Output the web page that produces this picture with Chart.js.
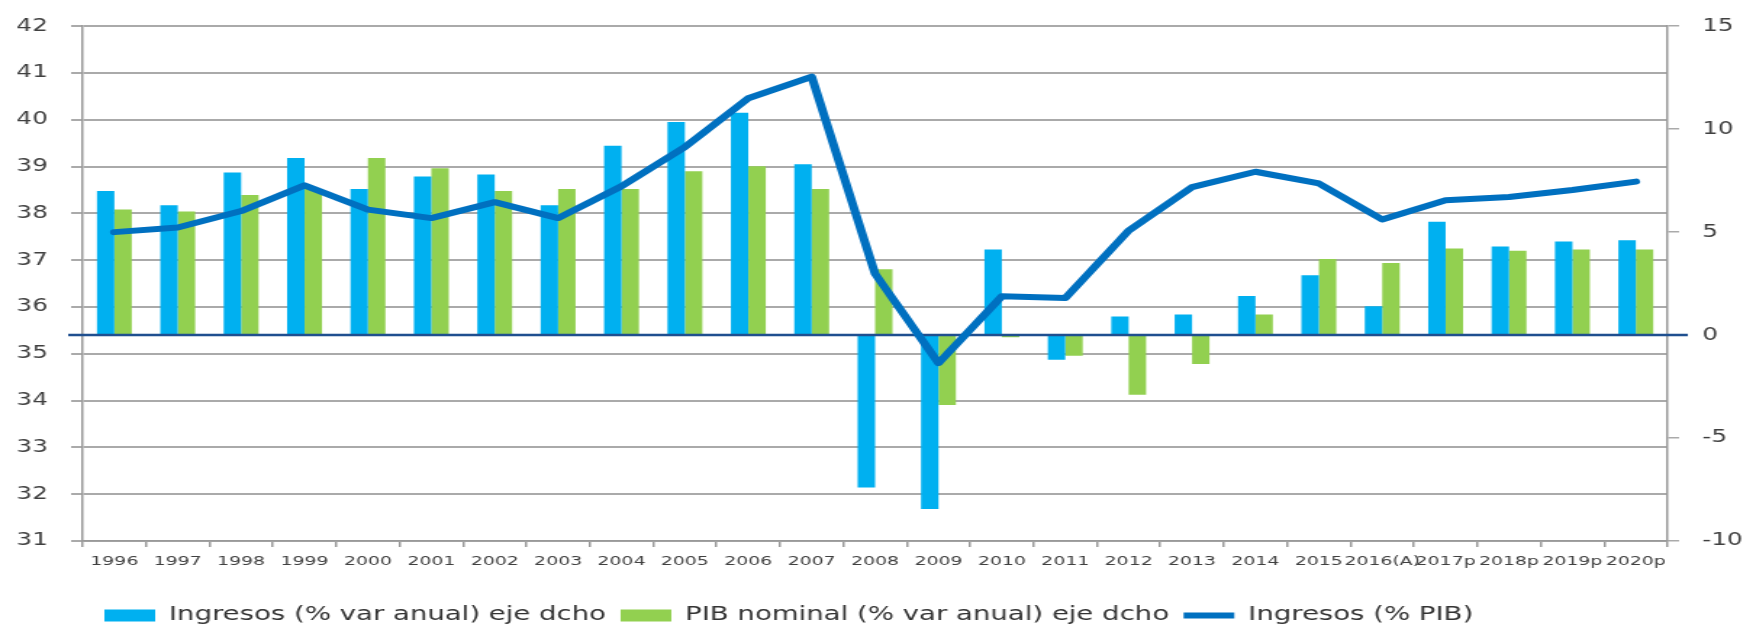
<!DOCTYPE html>
<html>
<head>
<meta charset="utf-8">
<script src="https://cdn.jsdelivr.net/npm/chart.js@4.4.1/dist/chart.umd.min.js"></script>
<style>
    html, body { margin: 0; padding: 0; background: #fff; overflow: hidden; }
    #wrap { width: 1746px; height: 624px; overflow: hidden; }
    /* the source picture is stretched sideways, so the canvas is too */
    #ingresosChart { display: block; transform: scaleX(1.45); transform-origin: 0 0; }
</style>
</head>
<body>
<div id="wrap"><canvas id="ingresosChart" width="1204" height="624"></canvas></div>
<script>
const years = ['1996', '1997', '1998', '1999', '2000', '2001', '2002', '2003', '2004', '2005',
    '2006', '2007', '2008', '2009', '2010', '2011', '2012', '2013', '2014', '2015',
    '2016(A)', '2017p', '2018p', '2019p', '2020p'];

// % var anual, eje derecho
const ingresosVar = [7.0, 6.3, 7.9, 8.6, 7.1, 7.7, 7.8, 6.3, 9.2, 10.35,
    10.8, 8.3, -7.4, -8.45, 4.15, -1.2, 0.9, 1.0, 1.9, 2.9,
    1.4, 5.5, 4.3, 4.55, 4.6];
const pibVar = [6.1, 6.0, 6.8, 7.1, 8.6, 8.1, 7.0, 7.1, 7.1, 7.95,
    8.2, 7.1, 3.2, -3.4, -0.1, -1.0, -2.9, -1.4, 1.0, 3.7,
    3.5, 4.2, 4.1, 4.15, 4.15];

// % del PIB, eje izquierdo
const ingresosPib = [37.6, 37.7, 38.05, 38.6, 38.08, 37.9, 38.24, 37.9, 38.58, 39.42,
    40.46, 40.92, 36.71, 34.8, 36.23, 36.19, 37.63, 38.56, 38.89, 38.64,
    37.87, 38.28, 38.35, 38.5, 38.68];

const leftTicks = { min: 31, max: 42, step: 1 };
const rightTicks = { min: -10, max: 15, step: 5 };

Chart.defaults.font.family = "'DejaVu Sans', sans-serif";
Chart.defaults.color = '#404040';

const gridGrey = '#aaaaaa';
const axisGrey = '#999999';

// dark line at 0 of the right axis, over the bars and under the PIB line
const zeroLine = {
    id: 'zeroLine',
    afterDatasetDraw(chart, args) {
        if (args.index !== 0) return;
        const ctx = chart.ctx;
        const y = chart.scales.y1.getPixelForValue(0);
        const { left, right } = chart.chartArea;
        ctx.save();
        ctx.strokeStyle = '#1f4f8f';
        ctx.lineWidth = 2.5;
        ctx.beginPath();
        ctx.moveTo(left - 10, y);
        ctx.lineTo(right + 14, y);
        ctx.stroke();
        ctx.restore();
    }
};

// legend sits a bit left of centre in the original
const legendShift = {
    id: 'legendShift',
    afterLayout(chart) {
        chart.legend.left = 62;
    }
};

const ctx = document.getElementById('ingresosChart').getContext('2d');
const ingresosChart = new Chart(ctx, {
    type: 'bar',
    data: {
        labels: years,
        datasets: [{
            label: 'Ingresos (% var anual) eje dcho',
            data: ingresosVar,
            backgroundColor: '#00b0f0',
            yAxisID: 'y1',
            order: 1,
            pointStyle: 'rect',
            categoryPercentage: 0.55,
            barPercentage: 1.0
        }, {
            label: 'PIB nominal (% var anual) eje dcho',
            data: pibVar,
            backgroundColor: '#92d050',
            yAxisID: 'y1',
            order: 2,
            pointStyle: 'rect',
            categoryPercentage: 0.55,
            barPercentage: 1.0
        }, {
            type: 'line',
            label: 'Ingresos (% PIB)',
            data: ingresosPib,
            borderColor: '#0070c0',
            backgroundColor: '#0070c0',
            borderWidth: 6,
            borderCapStyle: 'round',
            borderJoinStyle: 'round',
            tension: 0,
            pointRadius: 0,
            pointHoverRadius: 0,
            pointStyle: 'line',
            pointBorderColor: '#0070c0',
            pointBorderWidth: 6,
            yAxisID: 'y',
            order: 0
        }]
    },
    options: {
        responsive: false,
        animation: false,
        layout: { padding: { top: 21, bottom: -11, left: 0, right: 0 } },
        plugins: {
            tooltip: { enabled: false },
            legend: {
                position: 'bottom',
                align: 'start',
                labels: {
                    usePointStyle: true,
                    pointStyleWidth: 35,
                    boxHeight: 12,
                    padding: 10,
                    color: '#333333',
                    font: { size: 19 },
                    sort: (a, b) => a.datasetIndex - b.datasetIndex
                }
            }
        },
        scales: {
            x: {
                grid: { display: true, drawOnChartArea: false, offset: true, tickLength: 6, color: axisGrey, lineWidth: 1.5 },
                border: { display: true, color: axisGrey, width: 1.5 },
                ticks: { autoSkip: false, maxRotation: 0, minRotation: 0, padding: 7, font: { size: 13 } },
                afterFit: (scale) => { scale.height = 55; }
            },
            y: {
                position: 'left',
                min: leftTicks.min,
                max: leftTicks.max,
                ticks: { stepSize: leftTicks.step, padding: 16, font: { size: 17 } },
                grid: { color: gridGrey, lineWidth: 2, tickLength: 8 },
                border: { display: true, color: axisGrey, width: 1.5 },
                afterFit: (scale) => { scale.width = 57; }
            },
            y1: {
                position: 'right',
                min: rightTicks.min,
                max: rightTicks.max,
                ticks: { stepSize: rightTicks.step, padding: 16, font: { size: 17 } },
                grid: { drawOnChartArea: false, color: gridGrey, lineWidth: 1.5, tickLength: 8 },
                border: { display: true, color: axisGrey, width: 1.5 },
                afterFit: (scale) => { scale.width = 54; }
            }
        }
    },
    plugins: [zeroLine, legendShift]
});
</script>
</body>
</html>
